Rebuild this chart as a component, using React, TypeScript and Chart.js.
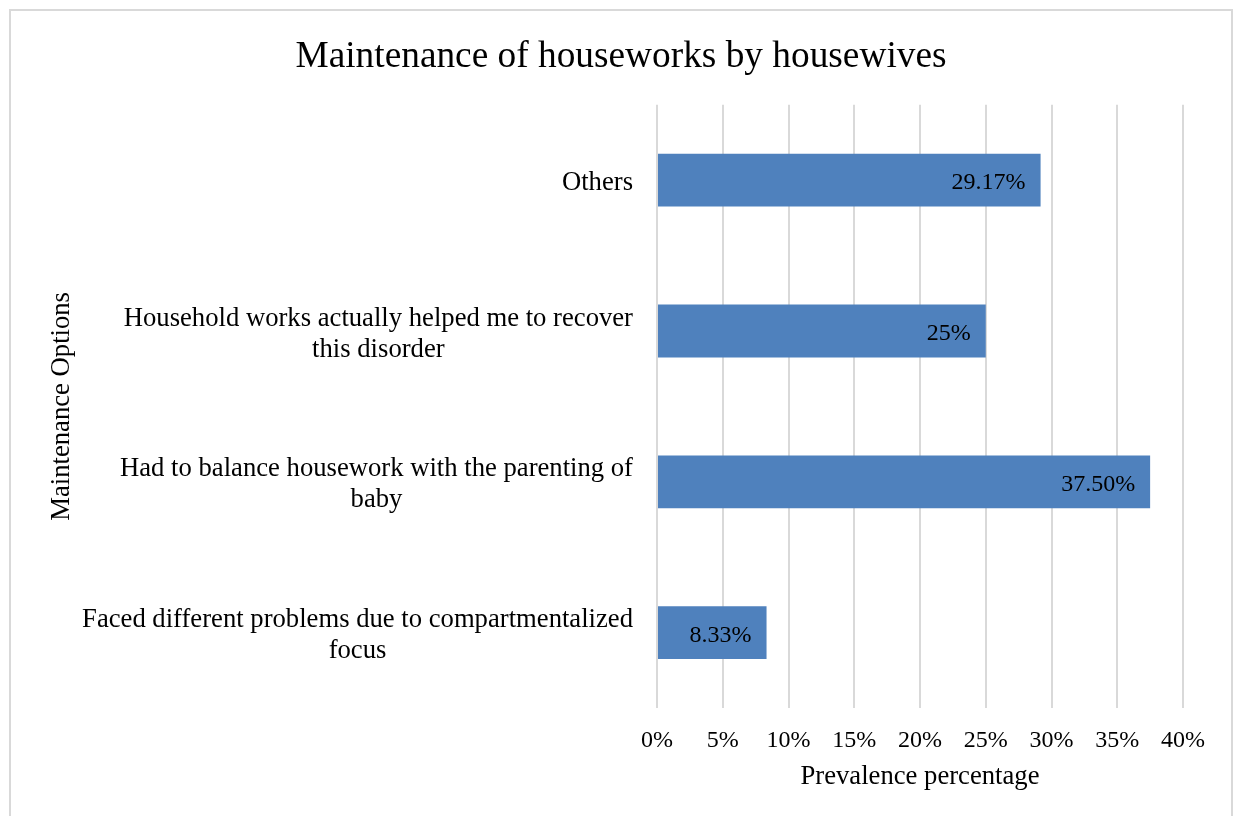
import React, { useEffect, useRef } from "react";
import { Chart, registerables } from "chart.js";

Chart.register(...registerables);

const titleText = "Maintenance of houseworks by housewives";
const categories: string[][] = [
  ["Others"],
  ["Household works actually helped me to recover", "this disorder"],
  ["Had to balance housework with the parenting of", "baby"],
  ["Faced different problems due to compartmentalized", "focus"],
];
const values = [29.17, 25, 37.5, 8.33];
const valueLabels = ["29.17%", "25%", "37.50%", "8.33%"];
const xTicks = [0, 5, 10, 15, 20, 25, 30, 35, 40];
const xTitle = "Prevalence percentage";
const yTitle = "Maintenance Options";

const FONT = "'Liberation Serif', 'Times New Roman', serif";

export default function App() {
  const ref = useRef<HTMLCanvasElement | null>(null);

  useEffect(() => {
    const canvas = ref.current;
    if (!canvas) return;

    const borderPlugin = {
      id: "borderPlugin",
      beforeDraw(chart: any) {
        const ctx = chart.ctx;
        ctx.save();
        ctx.fillStyle = "#ffffff";
        ctx.fillRect(0, 0, chart.width, chart.height);
        ctx.strokeStyle = "#d9d9d9";
        ctx.lineWidth = 2;
        ctx.strokeRect(10, 10, 1222, 900);
        ctx.restore();
      },
    };

    const catLabelPlugin = {
      id: "catLabelPlugin",
      afterDraw(chart: any) {
        const ctx = chart.ctx;
        const yScale = chart.scales.y;
        const rightX = chart.chartArea.left - 24;
        ctx.save();
        ctx.font = `26.67px ${FONT}`;
        ctx.fillStyle = "#000000";
        ctx.textAlign = "center";
        ctx.textBaseline = "middle";
        const lh = 31;
        categories.forEach((lines, i) => {
          const y = yScale.getPixelForValue(i) + 3;
          let maxW = 0;
          lines.forEach((l) => {
            maxW = Math.max(maxW, ctx.measureText(l).width);
          });
          const cx = rightX - maxW / 2;
          lines.forEach((l, j) => {
            ctx.fillText(l, cx, y + (j - (lines.length - 1) / 2) * lh);
          });
        });
        ctx.restore();
      },
    };

    const valueLabelPlugin = {
      id: "valueLabelPlugin",
      afterDatasetsDraw(chart: any) {
        const ctx = chart.ctx;
        const meta = chart.getDatasetMeta(0);
        ctx.save();
        ctx.font = `24px ${FONT}`;
        ctx.fillStyle = "#000000";
        ctx.textAlign = "right";
        ctx.textBaseline = "middle";
        meta.data.forEach((bar: any, i: number) => {
          ctx.fillText(valueLabels[i], bar.x - 15, bar.y + 3);
        });
        ctx.restore();
      },
    };

    const chart = new Chart(canvas, {
      type: "bar",
      data: {
        labels: categories,
        datasets: [
          {
            data: values,
            backgroundColor: "#4f81bd",
            borderWidth: 0,
            barPercentage: 0.35,
            categoryPercentage: 1,
          },
        ],
      },
      options: {
        indexAxis: "y",
        responsive: false,
        animation: false,
        devicePixelRatio: 1,
        layout: { padding: { left: 59, right: 52, top: 0, bottom: 0 } },
        plugins: {
          legend: { display: false },
          tooltip: { enabled: false },
          title: {
            display: true,
            text: titleText,
            color: "#000000",
            font: { family: FONT, size: 37.33, weight: "normal", lineHeight: 1.2 },
            padding: { top: 35, bottom: 25 },
          },
        },
        scales: {
          x: {
            type: "linear",
            min: 0,
            max: 40,
            afterBuildTicks: (scale: any) => {
              scale.ticks = xTicks.map((v) => ({ value: v }));
            },
            afterFit: (scale: any) => {
              scale.height = 108;
            },
            ticks: {
              stepSize: 5,
              padding: 18,
              color: "#000000",
              font: { family: FONT, size: 24, lineHeight: 1.2 },
              callback: (v: any) => `${v}%`,
              maxRotation: 0,
            },
            grid: { color: "#d9d9d9", lineWidth: 2, drawTicks: false },
            border: { display: false },
            title: {
              display: true,
              text: xTitle,
              color: "#000000",
              font: { family: FONT, size: 26.67, lineHeight: 1.2 },
              padding: { top: 0, bottom: 23 },
            },
          },
          y: {
            type: "category",
            afterFit: (scale: any) => {
              scale.width = 598;
            },
            ticks: { display: false },
            grid: { display: false, drawTicks: false },
            border: { display: false },
            title: {
              display: true,
              text: yTitle,
              color: "#000000",
              font: { family: FONT, size: 26.67, lineHeight: 1.2 },
              padding: { top: -13, bottom: 0 },
            },
          },
        },
      },
      plugins: [borderPlugin, catLabelPlugin, valueLabelPlugin],
    } as any);

    return () => chart.destroy();
  }, []);

  return (
    <div style={{ position: "absolute", left: 0, top: 0, width: 1235, height: 816 }}>
      <canvas ref={ref} width={1235} height={816} style={{ width: 1235, height: 816, display: "block" }} />
    </div>
  );
}
